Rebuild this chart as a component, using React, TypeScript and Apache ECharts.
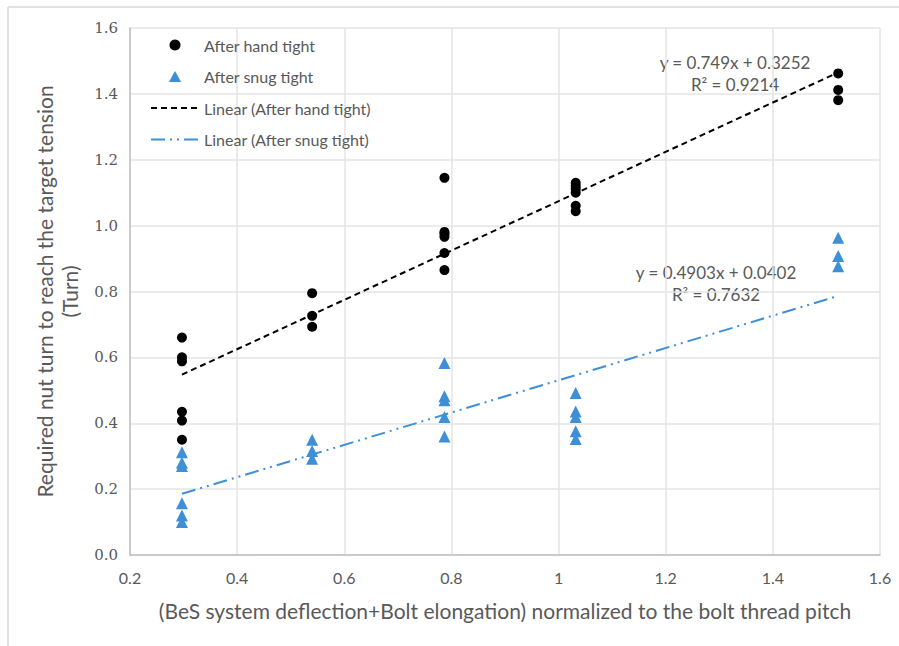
import React, { useEffect, useRef } from "react";
import * as echarts from "echarts";

// x positions (normalized deflection) of each group
const xHand: number[] = [
  0.297, 0.297, 0.297, 0.297, 0.297, 0.297,
  0.54, 0.54, 0.54,
  0.787, 0.787, 0.787, 0.787, 0.787, 0.787,
  1.032, 1.032, 1.032, 1.032, 1.032, 1.032,
  1.522, 1.522, 1.522,
];
const yHand: number[] = [
  0.66, 0.6, 0.588, 0.435, 0.408, 0.35,
  0.795, 0.726, 0.693,
  1.145, 0.981, 0.975, 0.966, 0.917, 0.865,
  1.13, 1.12, 1.111, 1.1, 1.06, 1.044,
  1.462, 1.412, 1.381,
];
const xSnug: number[] = [
  0.297, 0.297, 0.297, 0.297, 0.297, 0.297,
  0.54, 0.54, 0.54,
  0.787, 0.787, 0.787, 0.787, 0.787,
  1.032, 1.032, 1.032, 1.032, 1.032,
  1.522, 1.522, 1.522,
];
const ySnug: number[] = [
  0.312, 0.28, 0.27, 0.157, 0.12, 0.1,
  0.35, 0.316, 0.292,
  0.583, 0.482, 0.47, 0.419, 0.36,
  0.492, 0.436, 0.419, 0.376, 0.352,
  0.963, 0.908, 0.877,
];
// trend line coefficients (from the chart's equations)
const handSlope = 0.749;
const handIntercept = 0.3252;
const handR2 = "0.9214";
const snugSlope = 0.4903;
const snugIntercept = 0.0402;
const snugR2 = "0.7632";

const xTicks = { min: 0.2, max: 1.6, interval: 0.2 };
const yTicks = { min: 0, max: 1.6, interval: 0.2 };

const TXT = "#595959";
const BLUE = "#3f8fd6";
const TRI = "path://M5,0 L10,9 L0,9 Z";

export default function App() {
  const ref = useRef<HTMLDivElement>(null);
  useEffect(() => {
    if (!ref.current) return;
    const chart = echarts.init(ref.current, undefined, { renderer: "svg" });
    const hx0 = Math.min(...xHand), hx1 = Math.max(...xHand);
    const sx0 = Math.min(...xSnug), sx1 = Math.max(...xSnug);
    const handPts = xHand.map((x, i) => [x, yHand[i]]);
    const snugPts = xSnug.map((x, i) => [x, ySnug[i]]);
    const handLine = [hx0, hx1].map((x) => [x, handSlope * x + handIntercept]);
    const snugLine = [sx0, sx1].map((x) => [x, snugSlope * x + snugIntercept]);

    chart.setOption({
      animation: false,
      backgroundColor: "#ffffff",
      grid: { left: 130, right: 19, top: 28, bottom: 91 },
      xAxis: {
        type: "value",
        min: xTicks.min,
        max: xTicks.max,
        interval: xTicks.interval,
        axisLine: { show: true, lineStyle: { color: "#bfbfbf", width: 1.5 } },
        axisTick: { show: false },
        splitLine: { show: true, lineStyle: { color: "#e4e4e4", width: 1.5 } },
        axisLabel: {
          color: TXT,
          fontFamily: "Lato",
          fontSize: 16,
          margin: 14,
          formatter: (v: number) => String(Math.round(v * 10) / 10),
        },
        name: "(BeS system deflection+Bolt elongation) normalized to the bolt thread pitch",
        nameLocation: "middle",
        nameGap: 45,
        nameTextStyle: { color: TXT, fontFamily: "Lato", fontSize: 21 },
      },
      yAxis: {
        type: "value",
        min: yTicks.min,
        max: yTicks.max,
        interval: yTicks.interval,
        axisLine: { show: true, lineStyle: { color: "#bfbfbf", width: 1.5 } },
        axisTick: { show: false },
        splitLine: { show: true, lineStyle: { color: "#e4e4e4", width: 1.5 } },
        axisLabel: {
          color: TXT,
          fontFamily: "DejaVu Serif",
          fontSize: 15,
          margin: 12,
          formatter: (v: number) => v.toFixed(1),
        },
        name: "Required nut turn to reach the target tension\n(Turn)",
        nameLocation: "middle",
        nameGap: 48,
        nameTextStyle: { color: TXT, fontFamily: "Lato", fontSize: 21, lineHeight: 25 },
      },
      legend: {
        orient: "vertical",
        left: 150,
        top: 37,
        padding: 0,
        itemWidth: 48,
        itemHeight: 11,
        itemGap: 15.5,
        textStyle: { color: TXT, fontFamily: "Lato", fontSize: 16 },
        data: [
          { name: "After hand tight", icon: "circle" },
          { name: "After snug tight", icon: TRI },
          { name: "Linear (After hand tight)", itemStyle: { opacity: 0 } },
          { name: "Linear (After snug tight)", itemStyle: { opacity: 0 } },
        ],
      },
      graphic: [
        { type: "line", shape: { x1: 8, y1: 7, x2: 8, y2: 646 }, style: { stroke: "#d9d9d9", lineWidth: 1.5 } },
        { type: "line", shape: { x1: 8, y1: 7, x2: 899, y2: 7 }, style: { stroke: "#d9d9d9", lineWidth: 1.5 } },
        {
          type: "text",
          x: 735,
          y: 51,
          style: {
            text: `y = ${handSlope}x + ${handIntercept}\nR² = ${handR2}`,
            fill: TXT,
            font: "17px Lato",
            align: "center",
            lineHeight: 22,
          },
        },
        {
          type: "text",
          x: 716,
          y: 261,
          style: {
            text: `y = ${snugSlope}x + ${snugIntercept}\nR² = ${snugR2}`,
            fill: TXT,
            font: "17px Lato",
            align: "center",
            lineHeight: 22,
          },
        },
      ],
      series: [
        {
          name: "Linear (After hand tight)",
          type: "line",
          data: handLine,
          showSymbol: false,
          symbol: "none",
          lineStyle: { color: "#000000", width: 2, type: [6, 4] },
          itemStyle: { color: "#000000" },
          z: 1,
        },
        {
          name: "Linear (After snug tight)",
          type: "line",
          data: snugLine,
          showSymbol: false,
          symbol: "none",
          lineStyle: { color: BLUE, width: 2, type: [14, 5, 2, 5, 2, 5] },
          itemStyle: { color: BLUE },
          z: 1,
        },
        {
          name: "After hand tight",
          type: "scatter",
          data: handPts,
          symbol: "circle",
          symbolSize: 10,
          itemStyle: { color: "#000000", opacity: 1 },
          z: 3,
        },
        {
          name: "After snug tight",
          type: "scatter",
          data: snugPts,
          symbol: "triangle",
          symbolSize: 12,
          itemStyle: { color: BLUE, opacity: 1 },
          z: 3,
        },
      ],
    });
    return () => chart.dispose();
  }, []);
  return <div ref={ref} style={{ width: 899, height: 646, position: "absolute", left: 0, top: 0 }} />;
}
